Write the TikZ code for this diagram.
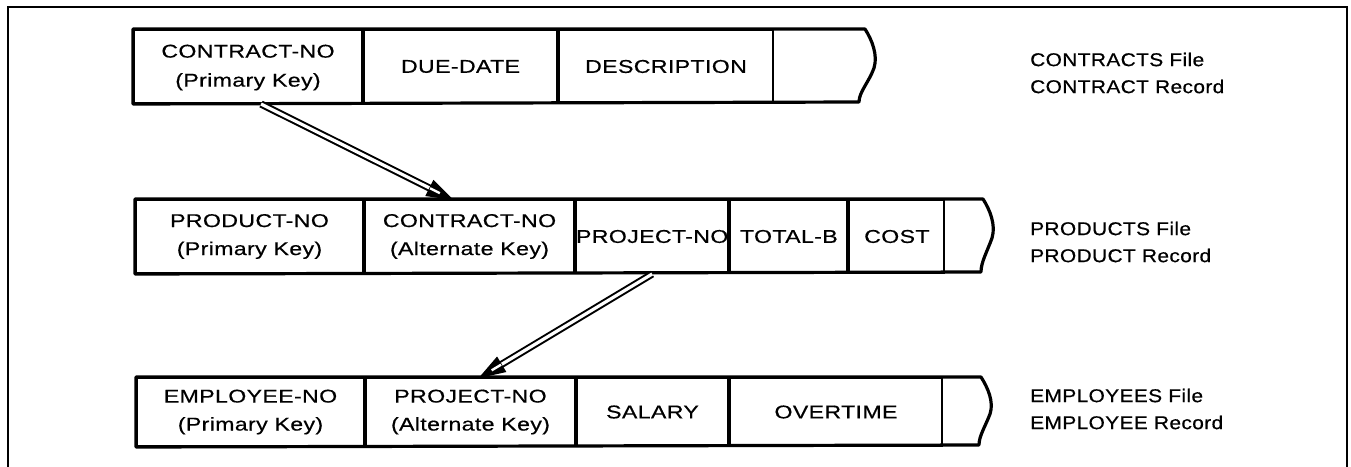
\documentclass[tikz,border=0pt]{standalone}
\usepackage{fontspec}
\setmainfont{Liberation Sans}[FakeStretch=1.25, LetterSpace=2, FakeBold=0.5]
\newfontfamily\captionfont{Liberation Sans}[FakeStretch=1.13, LetterSpace=2, FakeBold=0.5]
\usetikzlibrary{calc}
\begin{document}
\begin{tikzpicture}[x=1pt,y=-1pt,
  txt/.style={font=\fontsize{18.5}{28}\selectfont, align=center, inner sep=0pt},
  cell/.style={txt, draw=black, line width=2pt, anchor=north west},
  rowone/.style={cell, minimum height=73pt},
  rowtwo/.style={cell, minimum height=73pt},
  rowthree/.style={cell, minimum height=68pt},
  outline/.style={draw=black, line width=3.2pt, line join=round},
  frame/.style={draw=black, line width=2.8pt},
  lbl/.style={font=\captionfont\fontsize{18.5}{27}\selectfont, align=left, inner sep=0pt, anchor=west},
  shaft/.style={draw=black, line width=2pt, double=white, double distance=3.2pt},
  headtip/.style={draw=black, line width=1.5pt, fill=black, line join=miter},
  slit/.style={draw=white, line width=2.4pt}
]
\useasboundingbox (0,0) rectangle (1351,466);

% outer frame, open at the bottom edge
\draw[frame] (8,480) -- (8,7) -- (1347,7) -- (1347,480);

% CONTRACT record
\node[rowone, minimum width=228pt] (r1a) at (133,29) {\raisebox{-4pt}{\begin{tabular}{@{}c@{}}CONTRACT-NO\\[1pt](Primary Key)\end{tabular}}};
\node[rowone, minimum width=193pt] (r1b) at (r1a.north east) {DUE-DATE};
\node[rowone, minimum width=214pt] (r1c) at (r1b.north east) {DESCRIPTION};
\draw[outline] (r1a.north west) -- (865,29)
  .. controls (872,40) and (878,55) .. (874,68)
  .. controls (869,82) and (859,92) .. (859,102)
  -- (r1a.south west) -- cycle;

% PRODUCT record
\node[rowtwo, minimum width=227pt] (r2a) at (135,199) {PRODUCT-NO\\(Primary Key)};
\node[rowtwo, minimum width=209pt] (r2b) at (r2a.north east) {CONTRACT-NO\\(Alternate Key)};
\node[rowtwo, minimum width=152pt] (r2c) at (r2b.north east) {PROJECT-NO};
\node[rowtwo, minimum width=117pt] (r2d) at (r2c.north east) {TOTAL-B};
\node[rowtwo, minimum width=95pt] (r2e) at (r2d.north east) {COST};
\draw[outline] (r2a.north west) -- (983,199)
  .. controls (990,210) and (996,225) .. (992,238)
  .. controls (987,252) and (981,262) .. (981,272)
  -- (r2a.south west) -- cycle;

% EMPLOYEE record
\node[rowthree, minimum width=227pt] (r3a) at (136,377) {EMPLOYEE-NO\\(Primary Key)};
\node[rowthree, minimum width=209pt] (r3b) at (r3a.north east) {PROJECT-NO\\(Alternate Key)};
\node[rowthree, minimum width=151pt] (r3c) at (r3b.north east) {SALARY};
\node[rowthree, minimum width=212pt] (r3d) at (r3c.north east) {OVERTIME};
\draw[outline] (r3a.north west) -- (981,377)
  .. controls (988,388) and (994,402) .. (990,414)
  .. controls (985,427) and (979,436) .. (979,445)
  -- (r3a.south west) -- cycle;

% file / record captions
\node[lbl] (l1) at (1030,73) {CONTRACTS File\\CONTRACT Record};
\node[lbl] (l2) at (1030,242) {PRODUCTS File\\PRODUCT Record};
\node[lbl] (l3) at (1030,409) {EMPLOYEES File\\EMPLOYEE Record};

% key links: double shaft ending in a dark head split by the shaft's gap
\coordinate (a1s) at ($(r1a.south)+(13,0)$);
\coordinate (a1t) at ($(r2b.north)+(-18,0)$);
\coordinate (a1b) at ($(a1t)!24pt!(a1s)$);
\draw[shaft] (a1s) -- (a1b);
\draw[headtip] (a1t) -- ($(a1b)!8pt!90:(a1t)$) -- ($(a1b)!8pt!-90:(a1t)$) -- cycle;
\draw[slit] (a1b) -- ($(a1b)!11pt!(a1t)$);

\coordinate (a2s) at (r2c.south);
\coordinate (a2t) at ($(r3b.north)+(10,0)$);
\coordinate (a2b) at ($(a2t)!24pt!(a2s)$);
\draw[shaft] (a2s) -- (a2b);
\draw[headtip] (a2t) -- ($(a2b)!8pt!90:(a2t)$) -- ($(a2b)!8pt!-90:(a2t)$) -- cycle;
\draw[slit] (a2b) -- ($(a2b)!11pt!(a2t)$);
\end{tikzpicture}
\end{document}
